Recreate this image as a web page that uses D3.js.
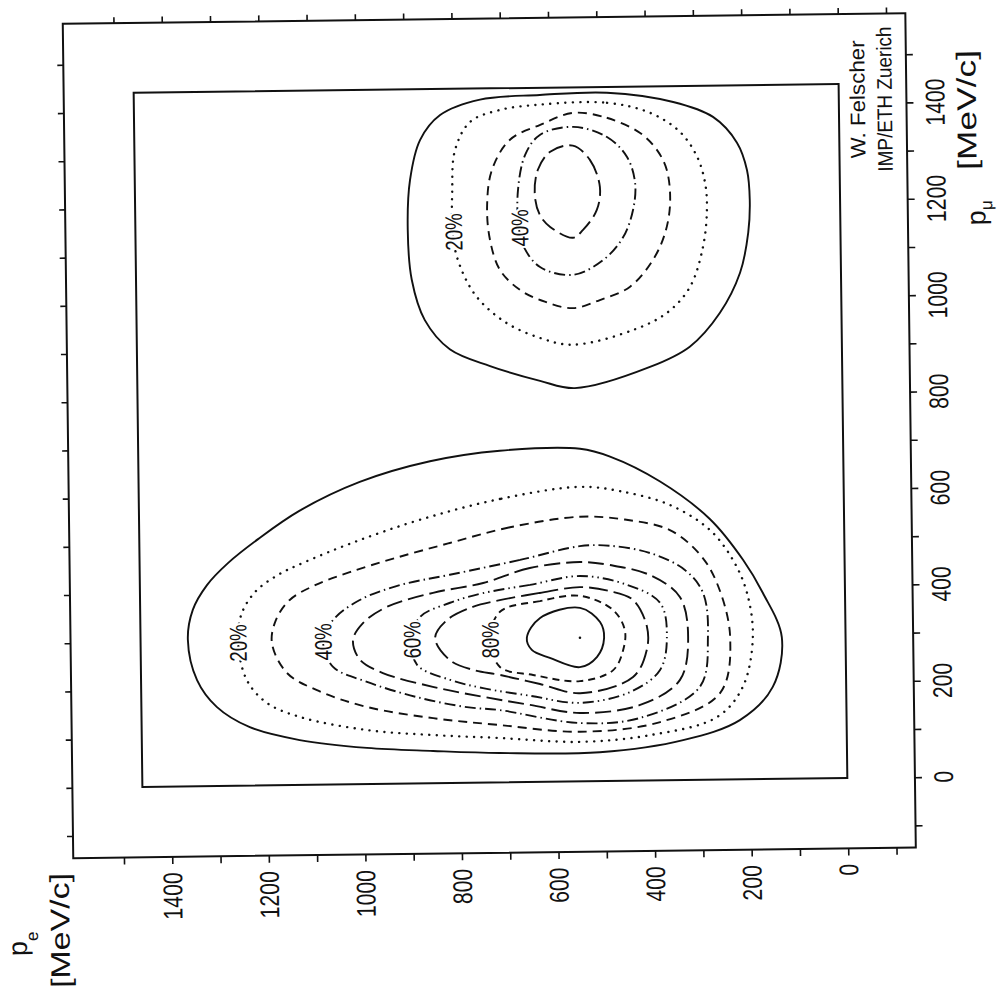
<!DOCTYPE html>
<html>
<head>
<meta charset="utf-8">
<script src="https://cdnjs.cloudflare.com/ajax/libs/d3/7.8.5/d3.min.js"></script>
<style>
  body { margin: 0; background: #fff; }
  svg text { font-family: "Liberation Sans", Arial, sans-serif; fill: #111; }
</style>
</head>
<body>
<script>
var WIDTH = 1000,
    HEIGHT = 996;

// axis ticks and labels (MeV/c)
var peTicks = [-100, 0, 100, 200, 300, 400, 500, 600, 700, 800, 900, 1000, 1100, 1200, 1300, 1400, 1500],
    peLabels = [0, 200, 400, 600, 800, 1000, 1200, 1400],
    pmuTicks = [-100, 0, 100, 200, 300, 400, 500, 600, 700, 800, 900, 1000, 1100, 1200, 1300, 1400, 1500],
    pmuLabels = [0, 200, 400, 600, 800, 1000, 1200, 1400];

// plotted region and outer frame, in MeV/c
var peBox = [0, 1460],
    pmuBox = [0, 1440],
    peFrame = [-140, 1605],
    pmuFrame = [-146, 1585];

// contour lines, points are [p_e, p_mu]
// lobe at low p_mu
var a10 = [[545,690],[711,688],[856,668],[1002,627],[1127,569],[1214,511],[1277,462],[1321,417],[1351,366],[1362,304],[1344,220],[1304,164],[1236,121],[1133,93],[994,75],[857,67],[719,61],[512,60],[339,83],[221,123],[152,191],[132,294],[170,386],[210,455],[278,541],[380,620],[483,673]];
var a20 = [[546,611],[712,588],[878,547],[1013,503],[1118,462],[1174,436],[1222,401],[1251,354],[1258,296],[1241,219],[1200,171],[1132,141],[993,112],[857,100],[718,92],[553,82],[408,94],[268,130],[214,192],[192,295],[203,387],[231,455],[278,518],[360,571],[463,601]];
var a30 = [[547,549],[692,529],[817,498],[931,468],[1025,440],[1097,414],[1150,384],[1179,343],[1188,295],[1158,233],[1096,196],[993,160],[856,135],[718,119],[552,103],[386,121],[261,180],[239,296],[265,408],[299,467],[361,519],[454,542]];
var a40 = [[548,488],[672,461],[818,432],[921,412],[1005,382],[1061,341],[1082,296],[1062,244],[992,212],[889,179],[786,157],[718,150],[552,121],[428,130],[303,193],[285,296],[294,388],[331,436],[403,472],[485,488]];
var a50 = [[548,455],[652,444],[749,414],[853,395],[949,367],[999,334],[1020,299],[1006,258],[959,230],[856,200],[752,178],[655,160],[552,142],[427,157],[344,208],[326,297],[342,380],[403,426],[486,448]];
var a60 = [[548,426],[652,409],[750,393],[818,374],[881,345],[898,298],[888,246],[820,214],[752,196],[655,179],[552,163],[448,184],[385,229],[370,297],[383,368],[455,408]];
var a70 = [[549,403],[632,392],[715,378],[771,365],[825,338],[850,301],[820,255],[772,234],[717,223],[634,203],[551,183],[441,215],[412,271],[411,319],[439,375],[487,394]];
var a80 = [[549,385],[632,375],[715,354],[736,296],[716,239],[648,222],[551,208],[482,230],[461,271],[457,313],[481,355]];
var a90 = [[549,360],[632,340],[660,299],[650,274],[613,257],[551,237],[515,258],[500,297],[508,330]];

// lobe at high p_mu
var b10 = [[619,1425],[480,1428],[343,1407],[261,1375],[212,1321],[192,1264],[187,1202],[191,1134],[209,1051],[252,968],[315,899],[398,858],[554,816],[626,832],[729,864],[812,900],[863,961],[889,1045],[896,1149],[890,1252],[868,1335],[826,1386],[743,1417]];
var b20 = [[619,1405],[480,1407],[391,1385],[330,1345],[295,1293],[279,1238],[276,1182],[285,1106],[313,1023],[361,970],[432,935],[557,906],[625,921],[697,955],[758,1012],[793,1085],[803,1143],[803,1225],[796,1313],[764,1371],[702,1395]];
var b30 = [[551,1387],[481,1376],[413,1344],[378,1308],[358,1266],[352,1198],[363,1136],[389,1080],[437,1025],[500,998],[556,982],[614,996],[665,1021],[706,1063],[726,1126],[731,1198],[720,1271],[682,1333],[619,1363]];
var b40 = [[551,1358],[481,1336],[440,1294],[424,1240],[429,1184],[450,1128],[492,1081],[555,1051],[623,1068],[656,1110],[666,1150],[667,1225],[651,1301],[620,1342]];
var b50 = [[552,1319],[517,1289],[497,1233],[504,1185],[533,1144],[554,1128],[601,1151],[622,1176],[632,1218],[625,1270],[599,1307]];

var contours = [
  {level: 10, pts: a10}, {level: 20, pts: a20}, {level: 30, pts: a30},
  {level: 40, pts: a40}, {level: 50, pts: a50}, {level: 60, pts: a60},
  {level: 70, pts: a70}, {level: 80, pts: a80}, {level: 90, pts: a90},
  {level: 10, pts: b10}, {level: 20, pts: b20}, {level: 30, pts: b30},
  {level: 40, pts: b40}, {level: 50, pts: b50}
];

// contour labels [p_e, p_mu]
var labelText = ['20%', '40%', '60%', '80%', '20%', '40%'],
    labelPos = [[1258,296],[1082,296],[898,298],[736,296],[801,1143],[664,1150]];

var peak = [550, 298];

var dash = {
  10: null, 20: '0.1,7.4', 30: '9,6', 40: '11,4,1.5,4', 50: '16,6',
  60: '11,4,1.5,4,1.5,4', 70: '19,6', 80: '7,5', 90: null
};

var svg = d3.select('body').append('svg')
    .attr('width', WIDTH)
    .attr('height', HEIGHT);

svg.append('rect').attr('width', WIDTH).attr('height', HEIGHT).attr('fill', '#fff');

// the scanned page sits slightly tilted
var g = svg.append('g').attr('transform', 'rotate(-0.72,490,436)');

var x = d3.scaleLinear().domain(peBox).range([843, 138]),
    y = d3.scaleLinear().domain(pmuBox).range([782.5, 88.4]);

// frames
g.append('rect')
  .attr('x', x(peFrame[1])).attr('y', y(pmuFrame[1]))
  .attr('width', x(peFrame[0]) - x(peFrame[1]))
  .attr('height', y(pmuFrame[0]) - y(pmuFrame[1]))
  .attr('fill', 'none').attr('stroke', '#111').attr('stroke-width', 2);

g.append('rect')
  .attr('x', x(peBox[1])).attr('y', y(pmuBox[1]))
  .attr('width', x(peBox[0]) - x(peBox[1]))
  .attr('height', y(pmuBox[0]) - y(pmuBox[1]))
  .attr('fill', 'none').attr('stroke', '#111').attr('stroke-width', 2);

// tick marks on all four sides
function ticks(axis, tr) {
  g.append('g').attr('transform', tr).call(axis)
    .call(function(s) {
      s.select('.domain').remove();
      s.selectAll('text').remove();
      s.selectAll('line').attr('stroke', '#111').attr('stroke-width', 1.6);
    });
}
ticks(d3.axisBottom(x).tickValues(peTicks).tickSize(7), 'translate(0,' + y(pmuFrame[0]) + ')');
ticks(d3.axisTop(x).tickValues(peTicks).tickSize(6), 'translate(0,' + y(pmuFrame[1]) + ')');
ticks(d3.axisLeft(y).tickValues(pmuTicks).tickSize(6), 'translate(' + x(peFrame[1]) + ',0)');
ticks(d3.axisRight(y).tickValues(pmuTicks).tickSize(7), 'translate(' + x(peFrame[0]) + ',0)');

// tick labels
g.selectAll('.pe-label').data(peLabels).enter().append('text')
  .attr('class', 'pe-label')
  .attr('transform', function(d) { return 'translate(' + (x(d) + 9.6) + ',' + (y(pmuFrame[0]) + 15.5) + ') rotate(-90)'; })
  .attr('text-anchor', 'end')
  .attr('font-size', 27)
  .attr('textLength', function(d) { return String(d).length * 11.8; })
  .attr('lengthAdjust', 'spacingAndGlyphs')
  .text(function(d) { return d; });

g.selectAll('.pmu-label').data(pmuLabels).enter().append('text')
  .attr('class', 'pmu-label')
  .attr('transform', function(d) { return 'translate(' + (x(peFrame[0]) + 38) + ',' + y(d) + ') rotate(-90)'; })
  .attr('text-anchor', 'middle')
  .attr('font-size', 27)
  .attr('textLength', function(d) { return String(d).length * 11.8; })
  .attr('lengthAdjust', 'spacingAndGlyphs')
  .text(function(d) { return d; });

// axis titles
var tb = g.append('text').attr('transform', 'translate(20.6,938) rotate(-90)')
  .attr('text-anchor', 'middle').attr('font-size', 27);
tb.append('tspan').text('p');
tb.append('tspan').attr('font-size', 17).attr('dy', 11).text('e');

g.append('text').attr('transform', 'translate(63.3,925) rotate(-90)')
  .attr('text-anchor', 'middle').attr('font-size', 27)
  .attr('textLength', 115).attr('lengthAdjust', 'spacingAndGlyphs')
  .text('[MeV/c]');

var tr = g.append('text').attr('transform', 'translate(988,219) rotate(-90)')
  .attr('text-anchor', 'middle').attr('font-size', 27);
tr.append('tspan').text('p');
tr.append('tspan').attr('font-size', 17).attr('dy', 7).text('μ');

g.append('text').attr('transform', 'translate(980,116) rotate(-90)')
  .attr('text-anchor', 'middle').attr('font-size', 27)
  .attr('textLength', 120).attr('lengthAdjust', 'spacingAndGlyphs')
  .text('[MeV/c]');

// author note
g.append('text').attr('transform', 'translate(869,104) rotate(-90)')
  .attr('text-anchor', 'middle').attr('font-size', 21)
  .attr('textLength', 118).attr('lengthAdjust', 'spacingAndGlyphs')
  .text('W. Felscher');
g.append('text').attr('transform', 'translate(896,104) rotate(-90)')
  .attr('text-anchor', 'middle').attr('font-size', 21)
  .attr('textLength', 145).attr('lengthAdjust', 'spacingAndGlyphs')
  .text('IMP/ETH Zuerich');

// contours
var line = d3.line()
    .x(function(d) { return x(d[0]); })
    .y(function(d) { return y(d[1]); })
    .curve(d3.curveCatmullRomClosed.alpha(0.5));

g.selectAll('.contour').data(contours).enter().append('path')
  .attr('class', 'contour')
  .attr('d', function(d) { return line(d.pts); })
  .attr('fill', 'none')
  .attr('stroke', '#111')
  .attr('stroke-width', function(d) { return d.level === 20 ? 2.4 : 1.9; })
  .attr('stroke-linecap', function(d) { return d.level === 20 ? 'round' : 'butt'; })
  .attr('stroke-dasharray', function(d) { return dash[d.level]; });

g.append('circle')
  .attr('cx', x(peak[0])).attr('cy', y(peak[1])).attr('r', 1.3)
  .attr('fill', '#111');

// labels on the contours
g.selectAll('.clabel').data(labelText).enter().append('text')
  .attr('class', 'clabel')
  .attr('transform', function(d, i) { return 'translate(' + x(labelPos[i][0]) + ',' + y(labelPos[i][1]) + ') rotate(-90)'; })
  .attr('text-anchor', 'middle')
  .attr('dominant-baseline', 'central')
  .attr('font-size', 24)
  .attr('textLength', 37)
  .attr('lengthAdjust', 'spacingAndGlyphs')
  .attr('stroke', '#fff').attr('stroke-width', 5).attr('paint-order', 'stroke')
  .text(function(d) { return d; });
</script>
</body>
</html>
